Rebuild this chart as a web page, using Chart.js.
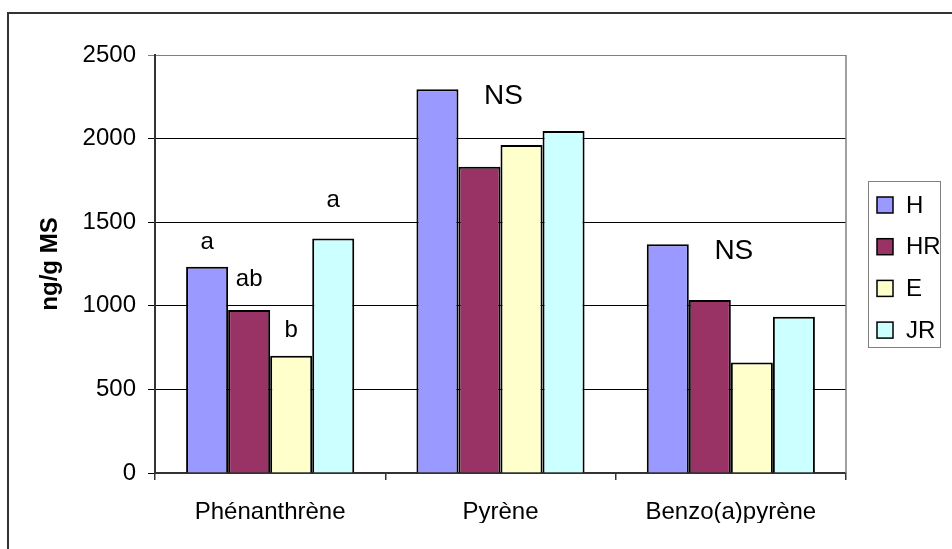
<!DOCTYPE html>
<html>
<head>
<meta charset="utf-8">
<title>HAP</title>
<script src="https://cdn.jsdelivr.net/npm/chart.js@4/dist/chart.umd.min.js"></script>
<style>
  html, body { margin: 0; padding: 0; background: #fff; }
  canvas { display: block; }
</style>
</head>
<body>
<canvas id="hapChart" width="952" height="549"></canvas>
<script>
// HAP concentrations per treatment
const categories = ["Phénanthrène", "Pyrène", "Benzo(a)pyrène"]
const seriesNames = ["H", "HR", "E", "JR"]
const valuesH = [1234, 2295, 1368]
const valuesHR = [975, 1831, 1035]
const valuesE = [702, 1961, 661]
const valuesJR = [1403, 2046, 935]
const yTicks = [0, 500, 1000, 1500, 2000, 2500]

// significance letters (per series, per compound) and group notes
const lettersH = ["a", "", ""]
const lettersHR = ["ab", "", ""]
const lettersE = ["b", "", ""]
const lettersJR = ["a", "", ""]
const groupNotes = ["", "NS", "NS"]

const colors = ["#9999ff", "#993366", "#ffffcc", "#ccffff"]
const letterGap = [24, 31, 25, 38]
const FONT = "'Liberation Sans', Arial, sans-serif"

const allValues = [valuesH, valuesHR, valuesE, valuesJR]
const allLetters = [lettersH, lettersHR, lettersE, lettersJR]

const datasets = seriesNames.map((name, i) => ({
  label: name,
  data: allValues[i],
  backgroundColor: colors[i],
  borderColor: "#000",
  borderWidth: 2,
  borderSkipped: "bottom",
  categoryPercentage: 0.73,
  barPercentage: 1,
}))

// letters above bars, NS above groups, legend box, frame
const annotations = {
  id: "annotations",
  afterDatasetsDraw(chart) {
    const { ctx, chartArea } = chart
    ctx.save()
    ctx.fillStyle = "#000"
    ctx.textAlign = "center"
    ctx.textBaseline = "middle"

    ctx.font = "24px " + FONT
    allLetters.forEach((letters, di) => {
      const meta = chart.getDatasetMeta(di)
      letters.forEach((txt, ci) => {
        if (!txt) return
        const bar = meta.data[ci]
        ctx.fillText(txt, bar.x, bar.y - letterGap[di])
      })
    })

    ctx.font = "28px " + FONT
    const xScale = chart.scales.x
    groupNotes.forEach((txt, ci) => {
      if (!txt) return
      let top = Infinity
      chart.data.datasets.forEach((ds, di) => {
        top = Math.min(top, chart.getDatasetMeta(di).data[ci].y)
      })
      ctx.fillText(txt, xScale.getPixelForValue(ci) + 3, top + 7)
    })

    // right edge of plot area
    ctx.strokeStyle = "#808080"
    ctx.lineWidth = 1.5
    ctx.beginPath()
    ctx.moveTo(chartArea.right, chartArea.top)
    ctx.lineTo(chartArea.right, chartArea.bottom)
    ctx.stroke()

    // legend
    ctx.strokeStyle = "#808080"
    ctx.lineWidth = 1
    ctx.strokeRect(868.5, 181.5, 72, 166)
    ctx.font = "24px " + FONT
    ctx.textAlign = "left"
    chart.data.datasets.forEach((ds, i) => {
      const cy = 205 + i * 41.7
      ctx.fillStyle = ds.backgroundColor
      ctx.fillRect(877, cy - 8, 16, 16)
      ctx.strokeStyle = "#000"
      ctx.lineWidth = 1.5
      ctx.strokeRect(877, cy - 8, 16, 16)
      ctx.fillStyle = "#000"
      ctx.fillText(ds.label, 906, cy + 1)
    })

    // outer frame
    ctx.strokeStyle = "#333"
    ctx.lineWidth = 2
    ctx.beginPath()
    ctx.moveTo(8, 549)
    ctx.lineTo(8, 13)
    ctx.lineTo(952, 13)
    ctx.stroke()
    ctx.restore()
  },
}

new Chart(document.getElementById("hapChart"), {
  type: "bar",
  data: { labels: categories, datasets },
  options: {
    responsive: false,
    animation: false,
    devicePixelRatio: 1,
    layout: { padding: { left: 0, top: 55, right: 106, bottom: 26 } },
    plugins: {
      legend: { display: false },
      tooltip: { enabled: false },
    },
    scales: {
      x: {
        grid: {
          offset: true,
          drawOnChartArea: false,
          color: "#333",
          tickLength: 7,
          lineWidth: 1.5,
        },
        border: { color: "#333", width: 2 },
        ticks: {
          color: "#000",
          font: { family: FONT, size: 24 },
          padding: 18,
          maxRotation: 0,
        },
        afterFit(scale) { scale.height = 50 },
      },
      y: {
        min: 0,
        max: 2500,
        afterBuildTicks(scale) { scale.ticks = yTicks.map(v => ({ value: v })) },
        grid: {
          color: (c) => (c.tick && c.tick.value === 2500 ? "#808080" : "#000"),
          lineWidth: 1,
          tickLength: 7,
        },
        border: { color: "#333", width: 2 },
        ticks: {
          color: "#000",
          font: { family: FONT, size: 24 },
          padding: 12,
          callback: (v) => String(v),
        },
        title: {
          display: true,
          text: "ng/g MS",
          color: "#000",
          font: { family: FONT, size: 24, weight: "bold" },
          padding: { top: 36, bottom: 0 },
        },
        afterFit(scale) { scale.width = 155 },
      },
    },
  },
  plugins: [annotations],
})
</script>
</body>
</html>
